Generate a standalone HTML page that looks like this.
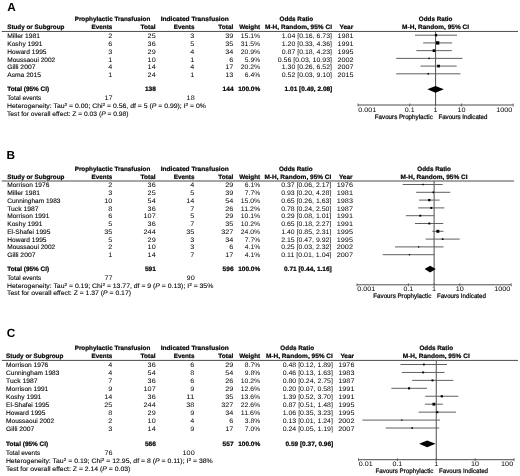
<!DOCTYPE html>
<html><head><meta charset="utf-8"><style>
html,body{margin:0;padding:0;background:#fff;}
body{width:520px;height:476px;overflow:hidden;}
svg{display:block;filter:grayscale(1);text-rendering:geometricPrecision;font-family:"Liberation Sans",sans-serif;font-size:6.5px;}
.r{fill:#000;stroke:#000;stroke-width:0.1px;}
.b{font-weight:bold;font-size:6.3px;fill:#000;stroke:#000;stroke-width:0.2px;}
.n{fill:#000;stroke:#000;stroke-width:0.0px;}
.lab{font-weight:bold;fill:#000;}
.fav{fill:#000;stroke:#000;stroke-width:0.22px;}
</style></head><body>
<svg width="520" height="476" viewBox="0 0 520 476">

<rect width="520" height="476" fill="#fff"/>
<text x="7.30" y="10.50" class="lab" font-size="11.8">A</text>
<text x="112.50" y="21.25" text-anchor="middle" class="b" textLength="75.66" lengthAdjust="spacingAndGlyphs">Prophylactic Transfusion</text>
<text x="194.70" y="21.25" text-anchor="middle" class="b" textLength="68.00" lengthAdjust="spacingAndGlyphs">Indicated Transfusion</text>
<text x="296.30" y="21.25" text-anchor="middle" class="b" textLength="33.62" lengthAdjust="spacingAndGlyphs">Odds Ratio</text>
<text x="435.60" y="21.25" text-anchor="middle" class="b" textLength="33.62" lengthAdjust="spacingAndGlyphs">Odds Ratio</text>
<text x="7.20" y="29.00" class="b" textLength="57.20" lengthAdjust="spacingAndGlyphs">Study or Subgroup</text>
<text x="112.30" y="29.00" text-anchor="end" class="b" textLength="20.67" lengthAdjust="spacingAndGlyphs">Events</text>
<text x="155.70" y="29.00" text-anchor="end" class="b" textLength="15.06" lengthAdjust="spacingAndGlyphs">Total</text>
<text x="194.40" y="29.00" text-anchor="end" class="b" textLength="20.67" lengthAdjust="spacingAndGlyphs">Events</text>
<text x="233.40" y="29.00" text-anchor="end" class="b" textLength="15.06" lengthAdjust="spacingAndGlyphs">Total</text>
<text x="260.20" y="29.00" text-anchor="end" class="b" textLength="21.01" lengthAdjust="spacingAndGlyphs">Weight</text>
<text x="332.00" y="29.00" text-anchor="end" class="b" textLength="67.00" lengthAdjust="spacingAndGlyphs">M-H, Random, 95% CI</text>
<text x="339.50" y="29.00" class="b" textLength="13.67" lengthAdjust="spacingAndGlyphs">Year</text>
<text x="435.60" y="29.00" text-anchor="middle" class="b" textLength="67.00" lengthAdjust="spacingAndGlyphs">M-H, Random, 95% CI</text>
<line x1="1.80" y1="31.45" x2="518.00" y2="31.45" stroke="#4d4d4d" stroke-width="1"/>
<line x1="435.60" y1="31.45" x2="435.60" y2="105.00" stroke="#4d4d4d" stroke-width="1"/>
<text x="7.20" y="38.00" class="r" textLength="32.77" lengthAdjust="spacingAndGlyphs">Miller 1981</text>
<text x="112.30" y="38.00" text-anchor="end" class="n" textLength="4.03" lengthAdjust="spacingAndGlyphs">2</text>
<text x="155.70" y="38.00" text-anchor="end" class="n" textLength="8.07" lengthAdjust="spacingAndGlyphs">25</text>
<text x="194.40" y="38.00" text-anchor="end" class="n" textLength="4.03" lengthAdjust="spacingAndGlyphs">3</text>
<text x="233.40" y="38.00" text-anchor="end" class="n" textLength="8.07" lengthAdjust="spacingAndGlyphs">39</text>
<text x="260.20" y="38.00" text-anchor="end" class="n" textLength="19.38" lengthAdjust="spacingAndGlyphs">15.1%</text>
<text x="332.00" y="38.00" text-anchor="end" class="n" textLength="50.17" lengthAdjust="spacingAndGlyphs">1.04 [0.16, 6.73]</text>
<text x="337.40" y="38.00" class="n" textLength="16.14" lengthAdjust="spacingAndGlyphs">1981</text>
<line x1="415.01" y1="35.20" x2="457.02" y2="35.20" stroke="#606060" stroke-width="1.0"/>
<rect x="434.87" y="34.03" width="2.33" height="2.33" fill="#000"/>
<text x="7.20" y="46.00" class="r" textLength="35.21" lengthAdjust="spacingAndGlyphs">Koshy 1991</text>
<text x="112.30" y="46.00" text-anchor="end" class="n" textLength="4.03" lengthAdjust="spacingAndGlyphs">6</text>
<text x="155.70" y="46.00" text-anchor="end" class="n" textLength="8.07" lengthAdjust="spacingAndGlyphs">36</text>
<text x="194.40" y="46.00" text-anchor="end" class="n" textLength="4.03" lengthAdjust="spacingAndGlyphs">5</text>
<text x="233.40" y="46.00" text-anchor="end" class="n" textLength="8.07" lengthAdjust="spacingAndGlyphs">35</text>
<text x="260.20" y="46.00" text-anchor="end" class="n" textLength="19.38" lengthAdjust="spacingAndGlyphs">31.5%</text>
<text x="332.00" y="46.00" text-anchor="end" class="n" textLength="50.17" lengthAdjust="spacingAndGlyphs">1.20 [0.33, 4.36]</text>
<text x="337.40" y="46.00" class="n" textLength="16.14" lengthAdjust="spacingAndGlyphs">1991</text>
<line x1="423.15" y1="42.92" x2="452.14" y2="42.92" stroke="#606060" stroke-width="1.0"/>
<rect x="435.96" y="41.24" width="3.37" height="3.37" fill="#000"/>
<text x="7.20" y="54.00" class="r" textLength="39.37" lengthAdjust="spacingAndGlyphs">Howard 1995</text>
<text x="112.30" y="54.00" text-anchor="end" class="n" textLength="4.03" lengthAdjust="spacingAndGlyphs">3</text>
<text x="155.70" y="54.00" text-anchor="end" class="n" textLength="8.07" lengthAdjust="spacingAndGlyphs">29</text>
<text x="194.40" y="54.00" text-anchor="end" class="n" textLength="4.03" lengthAdjust="spacingAndGlyphs">4</text>
<text x="233.40" y="54.00" text-anchor="end" class="n" textLength="8.07" lengthAdjust="spacingAndGlyphs">34</text>
<text x="260.20" y="54.00" text-anchor="end" class="n" textLength="19.38" lengthAdjust="spacingAndGlyphs">20.9%</text>
<text x="332.00" y="54.00" text-anchor="end" class="n" textLength="50.17" lengthAdjust="spacingAndGlyphs">0.87 [0.18, 4.23]</text>
<text x="337.40" y="54.00" class="n" textLength="16.14" lengthAdjust="spacingAndGlyphs">1995</text>
<line x1="416.34" y1="50.64" x2="451.80" y2="50.64" stroke="#606060" stroke-width="1.0"/>
<rect x="432.66" y="49.27" width="2.74" height="2.74" fill="#000"/>
<text x="7.20" y="62.00" class="r" textLength="48.04" lengthAdjust="spacingAndGlyphs">Moussaoui 2002</text>
<text x="112.30" y="62.00" text-anchor="end" class="n" textLength="4.03" lengthAdjust="spacingAndGlyphs">1</text>
<text x="155.70" y="62.00" text-anchor="end" class="n" textLength="8.07" lengthAdjust="spacingAndGlyphs">10</text>
<text x="194.40" y="62.00" text-anchor="end" class="n" textLength="4.03" lengthAdjust="spacingAndGlyphs">1</text>
<text x="233.40" y="62.00" text-anchor="end" class="n" textLength="4.03" lengthAdjust="spacingAndGlyphs">6</text>
<text x="260.20" y="62.00" text-anchor="end" class="n" textLength="15.35" lengthAdjust="spacingAndGlyphs">5.9%</text>
<text x="332.00" y="62.00" text-anchor="end" class="n" textLength="54.21" lengthAdjust="spacingAndGlyphs">0.56 [0.03, 10.93]</text>
<text x="337.40" y="62.00" class="n" textLength="16.14" lengthAdjust="spacingAndGlyphs">2002</text>
<line x1="396.21" y1="58.36" x2="462.47" y2="58.36" stroke="#606060" stroke-width="1.0"/>
<rect x="428.36" y="57.63" width="1.46" height="1.46" fill="#000"/>
<text x="7.20" y="69.00" class="r" textLength="28.27" lengthAdjust="spacingAndGlyphs">Gilli 2007</text>
<text x="112.30" y="69.00" text-anchor="end" class="n" textLength="4.03" lengthAdjust="spacingAndGlyphs">4</text>
<text x="155.70" y="69.00" text-anchor="end" class="n" textLength="8.07" lengthAdjust="spacingAndGlyphs">14</text>
<text x="194.40" y="69.00" text-anchor="end" class="n" textLength="4.03" lengthAdjust="spacingAndGlyphs">4</text>
<text x="233.40" y="69.00" text-anchor="end" class="n" textLength="8.07" lengthAdjust="spacingAndGlyphs">17</text>
<text x="260.20" y="69.00" text-anchor="end" class="n" textLength="19.38" lengthAdjust="spacingAndGlyphs">20.2%</text>
<text x="332.00" y="69.00" text-anchor="end" class="n" textLength="50.17" lengthAdjust="spacingAndGlyphs">1.30 [0.26, 6.52]</text>
<text x="337.40" y="69.00" class="n" textLength="16.14" lengthAdjust="spacingAndGlyphs">2007</text>
<line x1="420.47" y1="66.08" x2="456.66" y2="66.08" stroke="#606060" stroke-width="1.0"/>
<rect x="437.20" y="64.73" width="2.70" height="2.70" fill="#000"/>
<text x="7.20" y="77.00" class="r" textLength="33.82" lengthAdjust="spacingAndGlyphs">Asma 2015</text>
<text x="112.30" y="77.00" text-anchor="end" class="n" textLength="4.03" lengthAdjust="spacingAndGlyphs">1</text>
<text x="155.70" y="77.00" text-anchor="end" class="n" textLength="8.07" lengthAdjust="spacingAndGlyphs">24</text>
<text x="194.40" y="77.00" text-anchor="end" class="n" textLength="4.03" lengthAdjust="spacingAndGlyphs">1</text>
<text x="233.40" y="77.00" text-anchor="end" class="n" textLength="8.07" lengthAdjust="spacingAndGlyphs">13</text>
<text x="260.20" y="77.00" text-anchor="end" class="n" textLength="15.35" lengthAdjust="spacingAndGlyphs">6.4%</text>
<text x="332.00" y="77.00" text-anchor="end" class="n" textLength="50.17" lengthAdjust="spacingAndGlyphs">0.52 [0.03, 9.10]</text>
<text x="337.40" y="77.00" class="n" textLength="16.14" lengthAdjust="spacingAndGlyphs">2015</text>
<line x1="396.21" y1="73.80" x2="460.41" y2="73.80" stroke="#606060" stroke-width="1.0"/>
<rect x="427.50" y="73.04" width="1.52" height="1.52" fill="#000"/>
<text x="7.20" y="91.20" class="b" textLength="42.00" lengthAdjust="spacingAndGlyphs">Total (95% CI)</text>
<text x="155.90" y="91.20" text-anchor="end" class="b" textLength="11.00" lengthAdjust="spacingAndGlyphs">138</text>
<text x="233.60" y="91.20" text-anchor="end" class="b" textLength="11.00" lengthAdjust="spacingAndGlyphs">144</text>
<text x="260.20" y="91.20" text-anchor="end" class="b" textLength="22.02" lengthAdjust="spacingAndGlyphs">100.0%</text>
<text x="332.30" y="91.20" text-anchor="end" class="b" textLength="47.70" lengthAdjust="spacingAndGlyphs">1.01 [0.49, 2.08]</text>
<text x="7.20" y="99.75" class="r" textLength="33.99" lengthAdjust="spacingAndGlyphs">Total events</text>
<text x="112.60" y="99.75" text-anchor="end" class="n" textLength="8.07" lengthAdjust="spacingAndGlyphs">17</text>
<text x="194.70" y="99.75" text-anchor="end" class="n" textLength="8.07" lengthAdjust="spacingAndGlyphs">18</text>
<text x="7.00" y="107.50" class="r" textLength="199.00" lengthAdjust="spacingAndGlyphs">Heterogeneity: Tau<tspan font-size="4.4" baseline-shift="2.4">2</tspan> = 0.00; Chi<tspan font-size="4.4" baseline-shift="2.4">2</tspan> = 0.56, df = 5 (<tspan font-style="italic">P</tspan> = 0.99); I<tspan font-size="4.4" baseline-shift="2.4">2</tspan> = 0%</text>
<text x="7.00" y="115.60" class="r" textLength="121.50" lengthAdjust="spacingAndGlyphs">Test for overall effect: Z = 0.03 (<tspan font-style="italic">P</tspan> = 0.98)</text>
<polygon points="427.29,89.30 435.51,85.90 443.83,89.30 435.51,92.70" fill="#000"/>
<line x1="358.00" y1="105.00" x2="513.20" y2="105.00" stroke="#4d4d4d" stroke-width="1"/>
<line x1="358.00" y1="103.50" x2="358.00" y2="106.50" stroke="#4d4d4d" stroke-width="0.8"/>
<text x="358.30" y="111.60" class="n" textLength="17.87" lengthAdjust="spacingAndGlyphs">0.001</text>
<line x1="409.73" y1="103.50" x2="409.73" y2="106.50" stroke="#4d4d4d" stroke-width="0.8"/>
<text x="409.73" y="111.60" text-anchor="middle" class="n" textLength="9.80" lengthAdjust="spacingAndGlyphs">0.1</text>
<line x1="435.60" y1="103.50" x2="435.60" y2="106.50" stroke="#4d4d4d" stroke-width="0.8"/>
<text x="435.60" y="111.60" text-anchor="middle" class="n" textLength="4.03" lengthAdjust="spacingAndGlyphs">1</text>
<line x1="461.47" y1="103.50" x2="461.47" y2="106.50" stroke="#4d4d4d" stroke-width="0.8"/>
<text x="461.47" y="111.60" text-anchor="middle" class="n" textLength="8.07" lengthAdjust="spacingAndGlyphs">10</text>
<line x1="513.20" y1="103.50" x2="513.20" y2="106.50" stroke="#4d4d4d" stroke-width="0.8"/>
<text x="512.40" y="111.60" text-anchor="end" class="n" textLength="16.14" lengthAdjust="spacingAndGlyphs">1000</text>
<text x="432.80" y="118.60" text-anchor="end" class="fav" textLength="58.00" lengthAdjust="spacingAndGlyphs">Favours Prophylactic</text>
<text x="438.40" y="118.60" class="fav" textLength="49.00" lengthAdjust="spacingAndGlyphs">Favours Indicated</text>
<text x="6.60" y="158.70" class="lab" font-size="11.8">B</text>
<text x="112.50" y="171.00" text-anchor="middle" class="b" textLength="75.66" lengthAdjust="spacingAndGlyphs">Prophylactic Transfusion</text>
<text x="194.70" y="171.00" text-anchor="middle" class="b" textLength="68.00" lengthAdjust="spacingAndGlyphs">Indicated Transfusion</text>
<text x="295.70" y="171.00" text-anchor="middle" class="b" textLength="33.62" lengthAdjust="spacingAndGlyphs">Odds Ratio</text>
<text x="434.10" y="171.00" text-anchor="middle" class="b" textLength="33.62" lengthAdjust="spacingAndGlyphs">Odds Ratio</text>
<text x="7.20" y="178.60" class="b" textLength="57.20" lengthAdjust="spacingAndGlyphs">Study or Subgroup</text>
<text x="112.30" y="178.60" text-anchor="end" class="b" textLength="20.67" lengthAdjust="spacingAndGlyphs">Events</text>
<text x="155.70" y="178.60" text-anchor="end" class="b" textLength="15.06" lengthAdjust="spacingAndGlyphs">Total</text>
<text x="194.40" y="178.60" text-anchor="end" class="b" textLength="20.67" lengthAdjust="spacingAndGlyphs">Events</text>
<text x="233.40" y="178.60" text-anchor="end" class="b" textLength="15.06" lengthAdjust="spacingAndGlyphs">Total</text>
<text x="260.20" y="178.60" text-anchor="end" class="b" textLength="21.01" lengthAdjust="spacingAndGlyphs">Weight</text>
<text x="331.40" y="178.60" text-anchor="end" class="b" textLength="67.00" lengthAdjust="spacingAndGlyphs">M-H, Random, 95% CI</text>
<text x="338.90" y="178.60" class="b" textLength="13.67" lengthAdjust="spacingAndGlyphs">Year</text>
<text x="434.10" y="178.60" text-anchor="middle" class="b" textLength="67.00" lengthAdjust="spacingAndGlyphs">M-H, Random, 95% CI</text>
<line x1="1.80" y1="181.00" x2="514.00" y2="181.00" stroke="#4d4d4d" stroke-width="1"/>
<line x1="434.10" y1="181.00" x2="434.10" y2="284.80" stroke="#4d4d4d" stroke-width="1"/>
<text x="7.20" y="187.00" class="r" textLength="42.14" lengthAdjust="spacingAndGlyphs">Morrison 1976</text>
<text x="112.30" y="187.00" text-anchor="end" class="n" textLength="4.03" lengthAdjust="spacingAndGlyphs">2</text>
<text x="155.70" y="187.00" text-anchor="end" class="n" textLength="8.07" lengthAdjust="spacingAndGlyphs">36</text>
<text x="194.40" y="187.00" text-anchor="end" class="n" textLength="4.03" lengthAdjust="spacingAndGlyphs">4</text>
<text x="233.40" y="187.00" text-anchor="end" class="n" textLength="8.07" lengthAdjust="spacingAndGlyphs">29</text>
<text x="260.20" y="187.00" text-anchor="end" class="n" textLength="15.35" lengthAdjust="spacingAndGlyphs">6.1%</text>
<text x="331.40" y="187.00" text-anchor="end" class="n" textLength="50.17" lengthAdjust="spacingAndGlyphs">0.37 [0.06, 2.17]</text>
<text x="336.80" y="187.00" class="n" textLength="16.14" lengthAdjust="spacingAndGlyphs">1976</text>
<line x1="402.70" y1="184.50" x2="442.75" y2="184.50" stroke="#606060" stroke-width="1.0"/>
<rect x="422.26" y="183.76" width="1.48" height="1.48" fill="#000"/>
<text x="7.20" y="195.00" class="r" textLength="32.77" lengthAdjust="spacingAndGlyphs">Miller 1981</text>
<text x="112.30" y="195.00" text-anchor="end" class="n" textLength="4.03" lengthAdjust="spacingAndGlyphs">3</text>
<text x="155.70" y="195.00" text-anchor="end" class="n" textLength="8.07" lengthAdjust="spacingAndGlyphs">25</text>
<text x="194.40" y="195.00" text-anchor="end" class="n" textLength="4.03" lengthAdjust="spacingAndGlyphs">5</text>
<text x="233.40" y="195.00" text-anchor="end" class="n" textLength="8.07" lengthAdjust="spacingAndGlyphs">39</text>
<text x="260.20" y="195.00" text-anchor="end" class="n" textLength="15.35" lengthAdjust="spacingAndGlyphs">7.7%</text>
<text x="331.40" y="195.00" text-anchor="end" class="n" textLength="50.17" lengthAdjust="spacingAndGlyphs">0.93 [0.20, 4.28]</text>
<text x="336.80" y="195.00" class="n" textLength="16.14" lengthAdjust="spacingAndGlyphs">1981</text>
<line x1="416.14" y1="192.30" x2="450.33" y2="192.30" stroke="#606060" stroke-width="1.0"/>
<rect x="432.46" y="191.47" width="1.66" height="1.66" fill="#000"/>
<text x="7.20" y="203.00" class="r" textLength="53.25" lengthAdjust="spacingAndGlyphs">Cunningham 1983</text>
<text x="112.30" y="203.00" text-anchor="end" class="n" textLength="8.07" lengthAdjust="spacingAndGlyphs">10</text>
<text x="155.70" y="203.00" text-anchor="end" class="n" textLength="8.07" lengthAdjust="spacingAndGlyphs">54</text>
<text x="194.40" y="203.00" text-anchor="end" class="n" textLength="8.07" lengthAdjust="spacingAndGlyphs">14</text>
<text x="233.40" y="203.00" text-anchor="end" class="n" textLength="8.07" lengthAdjust="spacingAndGlyphs">54</text>
<text x="260.20" y="203.00" text-anchor="end" class="n" textLength="19.38" lengthAdjust="spacingAndGlyphs">15.0%</text>
<text x="331.40" y="203.00" text-anchor="end" class="n" textLength="50.17" lengthAdjust="spacingAndGlyphs">0.65 [0.26, 1.63]</text>
<text x="336.80" y="203.00" class="n" textLength="16.14" lengthAdjust="spacingAndGlyphs">1983</text>
<line x1="419.06" y1="200.10" x2="439.55" y2="200.10" stroke="#606060" stroke-width="1.0"/>
<rect x="428.13" y="198.94" width="2.32" height="2.32" fill="#000"/>
<text x="7.20" y="211.00" class="r" textLength="31.39" lengthAdjust="spacingAndGlyphs">Tuck 1987</text>
<text x="112.30" y="211.00" text-anchor="end" class="n" textLength="4.03" lengthAdjust="spacingAndGlyphs">8</text>
<text x="155.70" y="211.00" text-anchor="end" class="n" textLength="8.07" lengthAdjust="spacingAndGlyphs">36</text>
<text x="194.40" y="211.00" text-anchor="end" class="n" textLength="4.03" lengthAdjust="spacingAndGlyphs">7</text>
<text x="233.40" y="211.00" text-anchor="end" class="n" textLength="8.07" lengthAdjust="spacingAndGlyphs">26</text>
<text x="260.20" y="211.00" text-anchor="end" class="n" textLength="19.38" lengthAdjust="spacingAndGlyphs">11.2%</text>
<text x="331.40" y="211.00" text-anchor="end" class="n" textLength="50.17" lengthAdjust="spacingAndGlyphs">0.78 [0.24, 2.50]</text>
<text x="336.80" y="211.00" class="n" textLength="16.14" lengthAdjust="spacingAndGlyphs">1987</text>
<line x1="418.17" y1="207.90" x2="444.33" y2="207.90" stroke="#606060" stroke-width="1.0"/>
<rect x="430.32" y="206.90" width="2.01" height="2.01" fill="#000"/>
<text x="7.20" y="218.00" class="r" textLength="42.14" lengthAdjust="spacingAndGlyphs">Morrison 1991</text>
<text x="112.30" y="218.00" text-anchor="end" class="n" textLength="4.03" lengthAdjust="spacingAndGlyphs">6</text>
<text x="155.70" y="218.00" text-anchor="end" class="n" textLength="12.10" lengthAdjust="spacingAndGlyphs">107</text>
<text x="194.40" y="218.00" text-anchor="end" class="n" textLength="4.03" lengthAdjust="spacingAndGlyphs">5</text>
<text x="233.40" y="218.00" text-anchor="end" class="n" textLength="8.07" lengthAdjust="spacingAndGlyphs">29</text>
<text x="260.20" y="218.00" text-anchor="end" class="n" textLength="19.38" lengthAdjust="spacingAndGlyphs">10.1%</text>
<text x="331.40" y="218.00" text-anchor="end" class="n" textLength="50.17" lengthAdjust="spacingAndGlyphs">0.29 [0.08, 1.01]</text>
<text x="336.80" y="218.00" class="n" textLength="16.14" lengthAdjust="spacingAndGlyphs">1991</text>
<line x1="405.91" y1="215.70" x2="434.21" y2="215.70" stroke="#606060" stroke-width="1.0"/>
<rect x="419.33" y="214.75" width="1.91" height="1.91" fill="#000"/>
<text x="7.20" y="226.00" class="r" textLength="35.21" lengthAdjust="spacingAndGlyphs">Koshy 1991</text>
<text x="112.30" y="226.00" text-anchor="end" class="n" textLength="4.03" lengthAdjust="spacingAndGlyphs">5</text>
<text x="155.70" y="226.00" text-anchor="end" class="n" textLength="8.07" lengthAdjust="spacingAndGlyphs">36</text>
<text x="194.40" y="226.00" text-anchor="end" class="n" textLength="4.03" lengthAdjust="spacingAndGlyphs">7</text>
<text x="233.40" y="226.00" text-anchor="end" class="n" textLength="8.07" lengthAdjust="spacingAndGlyphs">35</text>
<text x="260.20" y="226.00" text-anchor="end" class="n" textLength="19.38" lengthAdjust="spacingAndGlyphs">10.2%</text>
<text x="331.40" y="226.00" text-anchor="end" class="n" textLength="50.17" lengthAdjust="spacingAndGlyphs">0.65 [0.18, 2.27]</text>
<text x="336.80" y="226.00" class="n" textLength="16.14" lengthAdjust="spacingAndGlyphs">1991</text>
<line x1="414.96" y1="223.50" x2="443.25" y2="223.50" stroke="#606060" stroke-width="1.0"/>
<rect x="428.33" y="222.54" width="1.92" height="1.92" fill="#000"/>
<text x="7.20" y="234.00" class="r" textLength="43.19" lengthAdjust="spacingAndGlyphs">El-Shafei 1995</text>
<text x="112.30" y="234.00" text-anchor="end" class="n" textLength="8.07" lengthAdjust="spacingAndGlyphs">35</text>
<text x="155.70" y="234.00" text-anchor="end" class="n" textLength="12.10" lengthAdjust="spacingAndGlyphs">244</text>
<text x="194.40" y="234.00" text-anchor="end" class="n" textLength="8.07" lengthAdjust="spacingAndGlyphs">35</text>
<text x="233.40" y="234.00" text-anchor="end" class="n" textLength="12.10" lengthAdjust="spacingAndGlyphs">327</text>
<text x="260.20" y="234.00" text-anchor="end" class="n" textLength="19.38" lengthAdjust="spacingAndGlyphs">24.0%</text>
<text x="331.40" y="234.00" text-anchor="end" class="n" textLength="50.17" lengthAdjust="spacingAndGlyphs">1.40 [0.85, 2.31]</text>
<text x="336.80" y="234.00" class="n" textLength="16.14" lengthAdjust="spacingAndGlyphs">1995</text>
<line x1="432.29" y1="231.30" x2="443.44" y2="231.30" stroke="#606060" stroke-width="1.0"/>
<rect x="436.39" y="229.83" width="2.94" height="2.94" fill="#000"/>
<text x="7.20" y="242.00" class="r" textLength="39.37" lengthAdjust="spacingAndGlyphs">Howard 1995</text>
<text x="112.30" y="242.00" text-anchor="end" class="n" textLength="4.03" lengthAdjust="spacingAndGlyphs">5</text>
<text x="155.70" y="242.00" text-anchor="end" class="n" textLength="8.07" lengthAdjust="spacingAndGlyphs">29</text>
<text x="194.40" y="242.00" text-anchor="end" class="n" textLength="4.03" lengthAdjust="spacingAndGlyphs">3</text>
<text x="233.40" y="242.00" text-anchor="end" class="n" textLength="8.07" lengthAdjust="spacingAndGlyphs">34</text>
<text x="260.20" y="242.00" text-anchor="end" class="n" textLength="15.35" lengthAdjust="spacingAndGlyphs">7.7%</text>
<text x="331.40" y="242.00" text-anchor="end" class="n" textLength="50.17" lengthAdjust="spacingAndGlyphs">2.15 [0.47, 9.92]</text>
<text x="336.80" y="242.00" class="n" textLength="16.14" lengthAdjust="spacingAndGlyphs">1995</text>
<line x1="425.67" y1="239.10" x2="459.71" y2="239.10" stroke="#606060" stroke-width="1.0"/>
<rect x="441.81" y="238.27" width="1.66" height="1.66" fill="#000"/>
<text x="7.20" y="249.00" class="r" textLength="48.04" lengthAdjust="spacingAndGlyphs">Moussaoui 2002</text>
<text x="112.30" y="249.00" text-anchor="end" class="n" textLength="4.03" lengthAdjust="spacingAndGlyphs">2</text>
<text x="155.70" y="249.00" text-anchor="end" class="n" textLength="8.07" lengthAdjust="spacingAndGlyphs">10</text>
<text x="194.40" y="249.00" text-anchor="end" class="n" textLength="4.03" lengthAdjust="spacingAndGlyphs">3</text>
<text x="233.40" y="249.00" text-anchor="end" class="n" textLength="4.03" lengthAdjust="spacingAndGlyphs">6</text>
<text x="260.20" y="249.00" text-anchor="end" class="n" textLength="15.35" lengthAdjust="spacingAndGlyphs">4.1%</text>
<text x="331.40" y="249.00" text-anchor="end" class="n" textLength="50.17" lengthAdjust="spacingAndGlyphs">0.25 [0.03, 2.32]</text>
<text x="336.80" y="249.00" class="n" textLength="16.14" lengthAdjust="spacingAndGlyphs">2002</text>
<line x1="394.96" y1="246.90" x2="443.49" y2="246.90" stroke="#606060" stroke-width="1.0"/>
<rect x="417.98" y="246.25" width="1.30" height="1.30" fill="#000"/>
<text x="7.20" y="257.00" class="r" textLength="28.27" lengthAdjust="spacingAndGlyphs">Gilli 2007</text>
<text x="112.30" y="257.00" text-anchor="end" class="n" textLength="4.03" lengthAdjust="spacingAndGlyphs">1</text>
<text x="155.70" y="257.00" text-anchor="end" class="n" textLength="8.07" lengthAdjust="spacingAndGlyphs">14</text>
<text x="194.40" y="257.00" text-anchor="end" class="n" textLength="4.03" lengthAdjust="spacingAndGlyphs">7</text>
<text x="233.40" y="257.00" text-anchor="end" class="n" textLength="8.07" lengthAdjust="spacingAndGlyphs">17</text>
<text x="260.20" y="257.00" text-anchor="end" class="n" textLength="15.35" lengthAdjust="spacingAndGlyphs">4.1%</text>
<text x="331.40" y="257.00" text-anchor="end" class="n" textLength="50.17" lengthAdjust="spacingAndGlyphs">0.11 [0.01, 1.04]</text>
<text x="336.80" y="257.00" class="n" textLength="16.14" lengthAdjust="spacingAndGlyphs">2007</text>
<line x1="382.70" y1="254.70" x2="434.54" y2="254.70" stroke="#606060" stroke-width="1.0"/>
<rect x="408.81" y="254.05" width="1.30" height="1.30" fill="#000"/>
<text x="7.20" y="271.00" class="b" textLength="42.00" lengthAdjust="spacingAndGlyphs">Total (95% CI)</text>
<text x="155.90" y="271.00" text-anchor="end" class="b" textLength="11.00" lengthAdjust="spacingAndGlyphs">591</text>
<text x="233.60" y="271.00" text-anchor="end" class="b" textLength="11.00" lengthAdjust="spacingAndGlyphs">596</text>
<text x="260.20" y="271.00" text-anchor="end" class="b" textLength="22.02" lengthAdjust="spacingAndGlyphs">100.0%</text>
<text x="331.70" y="271.00" text-anchor="end" class="b" textLength="47.70" lengthAdjust="spacingAndGlyphs">0.71 [0.44, 1.16]</text>
<text x="7.20" y="279.75" class="r" textLength="33.99" lengthAdjust="spacingAndGlyphs">Total events</text>
<text x="112.60" y="279.75" text-anchor="end" class="n" textLength="8.07" lengthAdjust="spacingAndGlyphs">77</text>
<text x="194.70" y="279.75" text-anchor="end" class="n" textLength="8.07" lengthAdjust="spacingAndGlyphs">90</text>
<text x="7.00" y="287.50" class="r" textLength="206.30" lengthAdjust="spacingAndGlyphs">Heterogeneity: Tau<tspan font-size="4.4" baseline-shift="2.4">2</tspan> = 0.19; Chi<tspan font-size="4.4" baseline-shift="2.4">2</tspan> = 13.77, df = 9 (<tspan font-style="italic">P</tspan> = 0.13); I<tspan font-size="4.4" baseline-shift="2.4">2</tspan> = 35%</text>
<text x="7.00" y="295.00" class="r" textLength="124.00" lengthAdjust="spacingAndGlyphs">Test for overall effect: Z = 1.37 (<tspan font-style="italic">P</tspan> = 0.17)</text>
<polygon points="424.64,269.10 430.08,265.70 435.76,269.10 430.08,272.50" fill="#000"/>
<line x1="357.00" y1="284.80" x2="511.20" y2="284.80" stroke="#4d4d4d" stroke-width="1"/>
<line x1="357.00" y1="283.30" x2="357.00" y2="286.30" stroke="#4d4d4d" stroke-width="0.8"/>
<text x="357.30" y="291.40" class="n" textLength="17.87" lengthAdjust="spacingAndGlyphs">0.001</text>
<line x1="408.40" y1="283.30" x2="408.40" y2="286.30" stroke="#4d4d4d" stroke-width="0.8"/>
<text x="408.40" y="291.40" text-anchor="middle" class="n" textLength="9.80" lengthAdjust="spacingAndGlyphs">0.1</text>
<line x1="434.10" y1="283.30" x2="434.10" y2="286.30" stroke="#4d4d4d" stroke-width="0.8"/>
<text x="434.10" y="291.40" text-anchor="middle" class="n" textLength="4.03" lengthAdjust="spacingAndGlyphs">1</text>
<line x1="459.80" y1="283.30" x2="459.80" y2="286.30" stroke="#4d4d4d" stroke-width="0.8"/>
<text x="459.80" y="291.40" text-anchor="middle" class="n" textLength="8.07" lengthAdjust="spacingAndGlyphs">10</text>
<line x1="511.20" y1="283.30" x2="511.20" y2="286.30" stroke="#4d4d4d" stroke-width="0.8"/>
<text x="510.40" y="291.40" text-anchor="end" class="n" textLength="16.14" lengthAdjust="spacingAndGlyphs">1000</text>
<text x="431.30" y="298.40" text-anchor="end" class="fav" textLength="58.00" lengthAdjust="spacingAndGlyphs">Favours Prophylactic</text>
<text x="436.90" y="298.40" class="fav" textLength="49.00" lengthAdjust="spacingAndGlyphs">Favours Indicated</text>
<text x="6.80" y="337.40" class="lab" font-size="11.8">C</text>
<text x="112.50" y="350.20" text-anchor="middle" class="b" textLength="75.66" lengthAdjust="spacingAndGlyphs">Prophylactic Transfusion</text>
<text x="194.70" y="350.20" text-anchor="middle" class="b" textLength="68.00" lengthAdjust="spacingAndGlyphs">Indicated Transfusion</text>
<text x="297.20" y="350.20" text-anchor="middle" class="b" textLength="33.62" lengthAdjust="spacingAndGlyphs">Odds Ratio</text>
<text x="436.25" y="350.20" text-anchor="middle" class="b" textLength="33.62" lengthAdjust="spacingAndGlyphs">Odds Ratio</text>
<text x="6.10" y="357.90" class="b" textLength="57.20" lengthAdjust="spacingAndGlyphs">Study or Subgroup</text>
<text x="112.30" y="357.90" text-anchor="end" class="b" textLength="20.67" lengthAdjust="spacingAndGlyphs">Events</text>
<text x="155.70" y="357.90" text-anchor="end" class="b" textLength="15.06" lengthAdjust="spacingAndGlyphs">Total</text>
<text x="194.40" y="357.90" text-anchor="end" class="b" textLength="20.67" lengthAdjust="spacingAndGlyphs">Events</text>
<text x="233.40" y="357.90" text-anchor="end" class="b" textLength="15.06" lengthAdjust="spacingAndGlyphs">Total</text>
<text x="260.20" y="357.90" text-anchor="end" class="b" textLength="21.01" lengthAdjust="spacingAndGlyphs">Weight</text>
<text x="332.90" y="357.90" text-anchor="end" class="b" textLength="67.00" lengthAdjust="spacingAndGlyphs">M-H, Random, 95% CI</text>
<text x="340.40" y="357.90" class="b" textLength="13.67" lengthAdjust="spacingAndGlyphs">Year</text>
<text x="436.25" y="357.90" text-anchor="middle" class="b" textLength="67.00" lengthAdjust="spacingAndGlyphs">M-H, Random, 95% CI</text>
<line x1="1.80" y1="360.40" x2="518.00" y2="360.40" stroke="#4d4d4d" stroke-width="1"/>
<line x1="436.25" y1="360.40" x2="436.25" y2="459.70" stroke="#4d4d4d" stroke-width="1"/>
<text x="6.10" y="367.00" class="r" textLength="42.14" lengthAdjust="spacingAndGlyphs">Morrison 1976</text>
<text x="112.30" y="367.00" text-anchor="end" class="n" textLength="4.03" lengthAdjust="spacingAndGlyphs">4</text>
<text x="155.70" y="367.00" text-anchor="end" class="n" textLength="8.07" lengthAdjust="spacingAndGlyphs">36</text>
<text x="194.40" y="367.00" text-anchor="end" class="n" textLength="4.03" lengthAdjust="spacingAndGlyphs">6</text>
<text x="233.40" y="367.00" text-anchor="end" class="n" textLength="8.07" lengthAdjust="spacingAndGlyphs">29</text>
<text x="260.20" y="367.00" text-anchor="end" class="n" textLength="15.35" lengthAdjust="spacingAndGlyphs">8.7%</text>
<text x="332.90" y="367.00" text-anchor="end" class="n" textLength="50.17" lengthAdjust="spacingAndGlyphs">0.48 [0.12, 1.89]</text>
<text x="338.30" y="367.00" class="n" textLength="16.14" lengthAdjust="spacingAndGlyphs">1976</text>
<line x1="400.45" y1="364.50" x2="447.00" y2="364.50" stroke="#606060" stroke-width="1.0"/>
<rect x="422.97" y="363.62" width="1.77" height="1.77" fill="#000"/>
<text x="6.10" y="374.94" class="r" textLength="53.25" lengthAdjust="spacingAndGlyphs">Cunningham 1983</text>
<text x="112.30" y="374.94" text-anchor="end" class="n" textLength="4.03" lengthAdjust="spacingAndGlyphs">4</text>
<text x="155.70" y="374.94" text-anchor="end" class="n" textLength="8.07" lengthAdjust="spacingAndGlyphs">54</text>
<text x="194.40" y="374.94" text-anchor="end" class="n" textLength="4.03" lengthAdjust="spacingAndGlyphs">8</text>
<text x="233.40" y="374.94" text-anchor="end" class="n" textLength="8.07" lengthAdjust="spacingAndGlyphs">54</text>
<text x="260.20" y="374.94" text-anchor="end" class="n" textLength="15.35" lengthAdjust="spacingAndGlyphs">9.8%</text>
<text x="332.90" y="374.94" text-anchor="end" class="n" textLength="50.17" lengthAdjust="spacingAndGlyphs">0.46 [0.13, 1.63]</text>
<text x="338.30" y="374.94" class="n" textLength="16.14" lengthAdjust="spacingAndGlyphs">1983</text>
<line x1="401.80" y1="372.44" x2="444.50" y2="372.44" stroke="#606060" stroke-width="1.0"/>
<rect x="422.20" y="371.50" width="1.88" height="1.88" fill="#000"/>
<text x="6.10" y="382.88" class="r" textLength="31.39" lengthAdjust="spacingAndGlyphs">Tuck 1987</text>
<text x="112.30" y="382.88" text-anchor="end" class="n" textLength="4.03" lengthAdjust="spacingAndGlyphs">7</text>
<text x="155.70" y="382.88" text-anchor="end" class="n" textLength="8.07" lengthAdjust="spacingAndGlyphs">36</text>
<text x="194.40" y="382.88" text-anchor="end" class="n" textLength="4.03" lengthAdjust="spacingAndGlyphs">6</text>
<text x="233.40" y="382.88" text-anchor="end" class="n" textLength="8.07" lengthAdjust="spacingAndGlyphs">26</text>
<text x="260.20" y="382.88" text-anchor="end" class="n" textLength="19.38" lengthAdjust="spacingAndGlyphs">10.2%</text>
<text x="332.90" y="382.88" text-anchor="end" class="n" textLength="50.17" lengthAdjust="spacingAndGlyphs">0.80 [0.24, 2.75]</text>
<text x="338.30" y="382.88" class="n" textLength="16.14" lengthAdjust="spacingAndGlyphs">1987</text>
<line x1="412.16" y1="380.38" x2="453.33" y2="380.38" stroke="#606060" stroke-width="1.0"/>
<rect x="431.52" y="379.42" width="1.92" height="1.92" fill="#000"/>
<text x="6.10" y="390.82" class="r" textLength="42.14" lengthAdjust="spacingAndGlyphs">Morrison 1991</text>
<text x="112.30" y="390.82" text-anchor="end" class="n" textLength="4.03" lengthAdjust="spacingAndGlyphs">9</text>
<text x="155.70" y="390.82" text-anchor="end" class="n" textLength="12.10" lengthAdjust="spacingAndGlyphs">107</text>
<text x="194.40" y="390.82" text-anchor="end" class="n" textLength="4.03" lengthAdjust="spacingAndGlyphs">9</text>
<text x="233.40" y="390.82" text-anchor="end" class="n" textLength="8.07" lengthAdjust="spacingAndGlyphs">29</text>
<text x="260.20" y="390.82" text-anchor="end" class="n" textLength="19.38" lengthAdjust="spacingAndGlyphs">12.6%</text>
<text x="332.90" y="390.82" text-anchor="end" class="n" textLength="50.17" lengthAdjust="spacingAndGlyphs">0.20 [0.07, 0.58]</text>
<text x="338.30" y="390.82" class="n" textLength="16.14" lengthAdjust="spacingAndGlyphs">1991</text>
<line x1="391.35" y1="388.32" x2="427.05" y2="388.32" stroke="#606060" stroke-width="1.0"/>
<rect x="408.01" y="387.26" width="2.13" height="2.13" fill="#000"/>
<text x="6.10" y="398.76" class="r" textLength="35.21" lengthAdjust="spacingAndGlyphs">Koshy 1991</text>
<text x="112.30" y="398.76" text-anchor="end" class="n" textLength="8.07" lengthAdjust="spacingAndGlyphs">14</text>
<text x="155.70" y="398.76" text-anchor="end" class="n" textLength="8.07" lengthAdjust="spacingAndGlyphs">36</text>
<text x="194.40" y="398.76" text-anchor="end" class="n" textLength="8.07" lengthAdjust="spacingAndGlyphs">11</text>
<text x="233.40" y="398.76" text-anchor="end" class="n" textLength="8.07" lengthAdjust="spacingAndGlyphs">35</text>
<text x="260.20" y="398.76" text-anchor="end" class="n" textLength="19.38" lengthAdjust="spacingAndGlyphs">13.6%</text>
<text x="332.90" y="398.76" text-anchor="end" class="n" textLength="50.17" lengthAdjust="spacingAndGlyphs">1.39 [0.52, 3.70]</text>
<text x="338.30" y="398.76" class="n" textLength="16.14" lengthAdjust="spacingAndGlyphs">1991</text>
<line x1="425.21" y1="396.26" x2="458.34" y2="396.26" stroke="#606060" stroke-width="1.0"/>
<rect x="440.70" y="395.15" width="2.21" height="2.21" fill="#000"/>
<text x="6.10" y="406.70" class="r" textLength="43.19" lengthAdjust="spacingAndGlyphs">El-Shafei 1995</text>
<text x="112.30" y="406.70" text-anchor="end" class="n" textLength="8.07" lengthAdjust="spacingAndGlyphs">25</text>
<text x="155.70" y="406.70" text-anchor="end" class="n" textLength="12.10" lengthAdjust="spacingAndGlyphs">244</text>
<text x="194.40" y="406.70" text-anchor="end" class="n" textLength="8.07" lengthAdjust="spacingAndGlyphs">38</text>
<text x="233.40" y="406.70" text-anchor="end" class="n" textLength="12.10" lengthAdjust="spacingAndGlyphs">327</text>
<text x="260.20" y="406.70" text-anchor="end" class="n" textLength="19.38" lengthAdjust="spacingAndGlyphs">22.6%</text>
<text x="332.90" y="406.70" text-anchor="end" class="n" textLength="50.17" lengthAdjust="spacingAndGlyphs">0.87 [0.51, 1.48]</text>
<text x="338.30" y="406.70" class="n" textLength="16.14" lengthAdjust="spacingAndGlyphs">1995</text>
<line x1="424.88" y1="404.20" x2="442.87" y2="404.20" stroke="#606060" stroke-width="1.0"/>
<rect x="432.47" y="402.77" width="2.85" height="2.85" fill="#000"/>
<text x="6.10" y="414.64" class="r" textLength="39.37" lengthAdjust="spacingAndGlyphs">Howard 1995</text>
<text x="112.30" y="414.64" text-anchor="end" class="n" textLength="4.03" lengthAdjust="spacingAndGlyphs">8</text>
<text x="155.70" y="414.64" text-anchor="end" class="n" textLength="8.07" lengthAdjust="spacingAndGlyphs">29</text>
<text x="194.40" y="414.64" text-anchor="end" class="n" textLength="4.03" lengthAdjust="spacingAndGlyphs">9</text>
<text x="233.40" y="414.64" text-anchor="end" class="n" textLength="8.07" lengthAdjust="spacingAndGlyphs">34</text>
<text x="260.20" y="414.64" text-anchor="end" class="n" textLength="19.38" lengthAdjust="spacingAndGlyphs">11.6%</text>
<text x="332.90" y="414.64" text-anchor="end" class="n" textLength="50.17" lengthAdjust="spacingAndGlyphs">1.06 [0.35, 3.23]</text>
<text x="338.30" y="414.64" class="n" textLength="16.14" lengthAdjust="spacingAndGlyphs">1995</text>
<line x1="418.53" y1="412.14" x2="456.05" y2="412.14" stroke="#606060" stroke-width="1.0"/>
<rect x="436.21" y="411.12" width="2.04" height="2.04" fill="#000"/>
<text x="6.10" y="422.58" class="r" textLength="48.04" lengthAdjust="spacingAndGlyphs">Moussaoui 2002</text>
<text x="112.30" y="422.58" text-anchor="end" class="n" textLength="4.03" lengthAdjust="spacingAndGlyphs">2</text>
<text x="155.70" y="422.58" text-anchor="end" class="n" textLength="8.07" lengthAdjust="spacingAndGlyphs">10</text>
<text x="194.40" y="422.58" text-anchor="end" class="n" textLength="4.03" lengthAdjust="spacingAndGlyphs">4</text>
<text x="233.40" y="422.58" text-anchor="end" class="n" textLength="4.03" lengthAdjust="spacingAndGlyphs">6</text>
<text x="260.20" y="422.58" text-anchor="end" class="n" textLength="15.35" lengthAdjust="spacingAndGlyphs">3.8%</text>
<text x="332.90" y="422.58" text-anchor="end" class="n" textLength="50.17" lengthAdjust="spacingAndGlyphs">0.13 [0.01, 1.24]</text>
<text x="338.30" y="422.58" class="n" textLength="16.14" lengthAdjust="spacingAndGlyphs">2002</text>
<line x1="362.40" y1="420.08" x2="439.88" y2="420.08" stroke="#606060" stroke-width="1.0"/>
<rect x="401.15" y="419.43" width="1.30" height="1.30" fill="#000"/>
<text x="6.10" y="430.52" class="r" textLength="28.27" lengthAdjust="spacingAndGlyphs">Gilli 2007</text>
<text x="112.30" y="430.52" text-anchor="end" class="n" textLength="4.03" lengthAdjust="spacingAndGlyphs">3</text>
<text x="155.70" y="430.52" text-anchor="end" class="n" textLength="8.07" lengthAdjust="spacingAndGlyphs">14</text>
<text x="194.40" y="430.52" text-anchor="end" class="n" textLength="4.03" lengthAdjust="spacingAndGlyphs">9</text>
<text x="233.40" y="430.52" text-anchor="end" class="n" textLength="8.07" lengthAdjust="spacingAndGlyphs">17</text>
<text x="260.20" y="430.52" text-anchor="end" class="n" textLength="15.35" lengthAdjust="spacingAndGlyphs">7.0%</text>
<text x="332.90" y="430.52" text-anchor="end" class="n" textLength="50.17" lengthAdjust="spacingAndGlyphs">0.24 [0.05, 1.19]</text>
<text x="338.30" y="430.52" class="n" textLength="16.14" lengthAdjust="spacingAndGlyphs">2007</text>
<line x1="385.67" y1="428.02" x2="439.19" y2="428.02" stroke="#606060" stroke-width="1.0"/>
<rect x="411.36" y="427.23" width="1.59" height="1.59" fill="#000"/>
<text x="6.10" y="445.75" class="b" textLength="42.00" lengthAdjust="spacingAndGlyphs">Total (95% CI)</text>
<text x="155.90" y="445.75" text-anchor="end" class="b" textLength="11.00" lengthAdjust="spacingAndGlyphs">566</text>
<text x="233.60" y="445.75" text-anchor="end" class="b" textLength="11.00" lengthAdjust="spacingAndGlyphs">557</text>
<text x="260.20" y="445.75" text-anchor="end" class="b" textLength="22.02" lengthAdjust="spacingAndGlyphs">100.0%</text>
<text x="333.20" y="445.75" text-anchor="end" class="b" textLength="47.70" lengthAdjust="spacingAndGlyphs">0.59 [0.37, 0.96]</text>
<text x="6.10" y="454.50" class="r" textLength="33.99" lengthAdjust="spacingAndGlyphs">Total events</text>
<text x="112.60" y="454.50" text-anchor="end" class="n" textLength="8.07" lengthAdjust="spacingAndGlyphs">76</text>
<text x="194.70" y="454.50" text-anchor="end" class="n" textLength="12.10" lengthAdjust="spacingAndGlyphs">100</text>
<text x="5.90" y="462.75" class="r" textLength="206.80" lengthAdjust="spacingAndGlyphs">Heterogeneity: Tau<tspan font-size="4.4" baseline-shift="2.4">2</tspan> = 0.19; Chi<tspan font-size="4.4" baseline-shift="2.4">2</tspan> = 12.95, df = 8 (<tspan font-style="italic">P</tspan> = 0.11); I<tspan font-size="4.4" baseline-shift="2.4">2</tspan> = 38%</text>
<text x="5.90" y="470.75" class="r" textLength="124.50" lengthAdjust="spacingAndGlyphs">Test for overall effect: Z = 2.14 (<tspan font-style="italic">P</tspan> = 0.03)</text>
<polygon points="419.16,443.85 427.14,440.45 435.56,443.85 427.14,447.25" fill="#000"/>
<line x1="358.50" y1="459.70" x2="514.00" y2="459.70" stroke="#4d4d4d" stroke-width="1"/>
<line x1="358.50" y1="458.20" x2="358.50" y2="461.20" stroke="#4d4d4d" stroke-width="0.8"/>
<text x="358.80" y="466.30" class="n" textLength="13.84" lengthAdjust="spacingAndGlyphs">0.01</text>
<line x1="397.38" y1="458.20" x2="397.38" y2="461.20" stroke="#4d4d4d" stroke-width="0.8"/>
<text x="397.38" y="466.30" text-anchor="middle" class="n" textLength="9.80" lengthAdjust="spacingAndGlyphs">0.1</text>
<line x1="436.25" y1="458.20" x2="436.25" y2="461.20" stroke="#4d4d4d" stroke-width="0.8"/>
<text x="436.25" y="466.30" text-anchor="middle" class="n" textLength="4.03" lengthAdjust="spacingAndGlyphs">1</text>
<line x1="475.12" y1="458.20" x2="475.12" y2="461.20" stroke="#4d4d4d" stroke-width="0.8"/>
<text x="475.12" y="466.30" text-anchor="middle" class="n" textLength="8.07" lengthAdjust="spacingAndGlyphs">10</text>
<line x1="514.00" y1="458.20" x2="514.00" y2="461.20" stroke="#4d4d4d" stroke-width="0.8"/>
<text x="513.20" y="466.30" text-anchor="end" class="n" textLength="12.10" lengthAdjust="spacingAndGlyphs">100</text>
<text x="433.45" y="473.30" text-anchor="end" class="fav" textLength="58.00" lengthAdjust="spacingAndGlyphs">Favours Prophylactic</text>
<text x="439.05" y="473.30" class="fav" textLength="49.00" lengthAdjust="spacingAndGlyphs">Favours Indicated</text>

</svg>
</body></html>
